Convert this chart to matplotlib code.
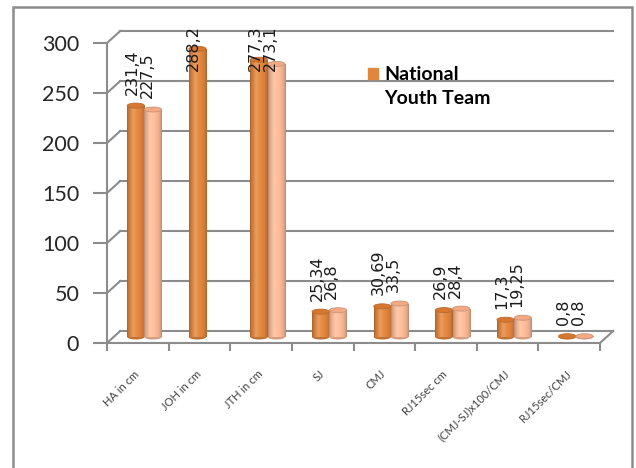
import numpy as np
import matplotlib
matplotlib.use("Agg")
import matplotlib.pyplot as plt
from matplotlib.patches import Ellipse, Rectangle, Patch
from matplotlib.legend_handler import HandlerPatch

categories = ["HA in cm", "JOH in cm", "JTH in cm", "SJ", "CMJ", "RJ15sec cm",
              "(CMJ-SJ)x100/CMJ", "RJ15sec/CMJ"]
national = [231.4, 288.2, 277.3, 25.34, 30.69, 26.9, 17.3, 0.8]
youth = [227.5, np.nan, 273.1, 26.8, 33.5, 28.4, 19.25, 0.8]
yticks = [0, 50, 100, 150, 200, 250, 300]

plt.rcParams["font.family"] = ["Lato", "DejaVu Sans"]

GRID = "#8c8c8c"
ORANGE = np.array([226, 134, 62]) / 255
PEACH = np.array([251, 186, 150]) / 255

fig = plt.figure(figsize=(6.36, 4.68), dpi=100)
ax = fig.add_axes([107 / 636, 125 / 468, 493 / 636, 300 / 468])

# depth of the fake 3d box, in data units
DX, DZ = 0.215, 12
W = 0.28
x = np.arange(len(categories))


def shade(base, n=40):
    t = np.linspace(0, 1, n)
    s = np.sin(np.pi * t) ** 0.5
    col = base[None, :] * (0.72 + 0.3 * s[:, None])
    hl = 0.18 * np.exp(-((t - 0.35) / 0.13) ** 2)
    col = col + (1 - col) * hl[:, None]
    return np.clip(col, 0, 1)[None, :, :]


def cylinders(xs, vals, base, cap):
    grad = shade(base)
    bars = ax.bar(xs, vals, W, bottom=DZ / 2, color=base, zorder=2, linewidth=0)
    for b, v in zip(bars, vals):
        if np.isnan(v):
            continue
        x0 = b.get_x()
        xc = x0 + W / 2
        im = ax.imshow(grad, extent=(x0, x0 + W, DZ / 2, DZ / 2 + v), aspect="auto",
                       interpolation="bilinear", zorder=2.1)
        im.set_clip_path(b)
        ax.add_patch(Ellipse((xc, DZ / 2), W, 5, color=base * 0.85, zorder=1.9, lw=0))
        ax.add_patch(Ellipse((xc, DZ / 2 + v), W, 5, facecolor=cap,
                             edgecolor=base * 0.8, lw=0.6, zorder=3))


cylinders(x + DX / 2 - W / 2, national, ORANGE, "#d8772f")
cylinders(x + DX / 2 + W / 2, youth, PEACH, "#f3aa84")

# value labels, pushed down when they would leave the chart area
for xs, vals in [(x + DX / 2 - W / 2 - 0.06, national), (x + DX / 2 + W / 2 - 0.1, youth)]:
    for xi, v in zip(xs, vals):
        if np.isnan(v):
            continue
        ax.text(xi, min(v + 17, 272), f"{v:g}".replace(".", ","), rotation=90,
                ha="center", va="bottom", fontsize=11.5, color="#1a1a1a",
                family="DejaVu Sans", clip_on=False, zorder=4)

# back wall, side wall and floor lines
for v in yticks:
    ax.plot([-0.5 + DX, 7.5 + DX], [v + DZ, v + DZ], color=GRID, lw=1.5,
            clip_on=False, zorder=0.5)
    ax.plot([-0.5, -0.5 + DX], [v, v + DZ], color=GRID, lw=1.5, clip_on=False, zorder=0.5)
ax.plot([7.5, 7.5 + DX], [0, DZ], color=GRID, lw=1.5, clip_on=False, zorder=0.5)

ax.set_xlim(-0.5, 7.5)
ax.set_ylim(0, 300)
ax.set_facecolor("none")
for side in ["top", "right"]:
    ax.spines[side].set_visible(False)
for side in ["left", "bottom"]:
    ax.spines[side].set_color(GRID)
    ax.spines[side].set_linewidth(1.5)

ax.set_yticks(yticks)
ax.tick_params(axis="y", length=10, width=1.5, color=GRID, pad=10,
               labelsize=15.5, labelcolor="#262626")
ax.set_xticks(x)
ax.set_xticklabels(categories, rotation=45, ha="right", rotation_mode="anchor",
                   va="center", fontsize=8, color="#404040")
ax.tick_params(axis="x", which="major", length=0, pad=21)
ax.set_xticks(np.arange(-0.5, 8), minor=True)
ax.tick_params(axis="x", which="minor", length=6, width=1.5, color=GRID)


def top_line_patch(legend, orig_handle, xdescent, ydescent, width, height, fontsize):
    return Rectangle((-xdescent, -ydescent + 0.66 * fontsize), width, height)


leg = ax.legend(handles=[Patch(color=ORANGE)], labels=["National\nYouth Team"],
                loc="upper left", bbox_to_anchor=(358 / 636, 1 - 56 / 468),
                bbox_transform=fig.transFigure, frameon=False, borderpad=0,
                handlelength=0.55, handleheight=0.55, handletextpad=0.3,
                prop={"weight": "bold", "size": 14},
                handler_map={Patch: HandlerPatch(patch_func=top_line_patch)})
leg.get_texts()[0].set_linespacing(1.5)

# outer chart frame
fig.patches.append(Rectangle((13 / 636, -0.1), 619 / 636, 1.1 - 7 / 468, fill=False,
                             edgecolor=GRID, lw=1.8, transform=fig.transFigure))

fig.savefig("out.png", dpi=100)
